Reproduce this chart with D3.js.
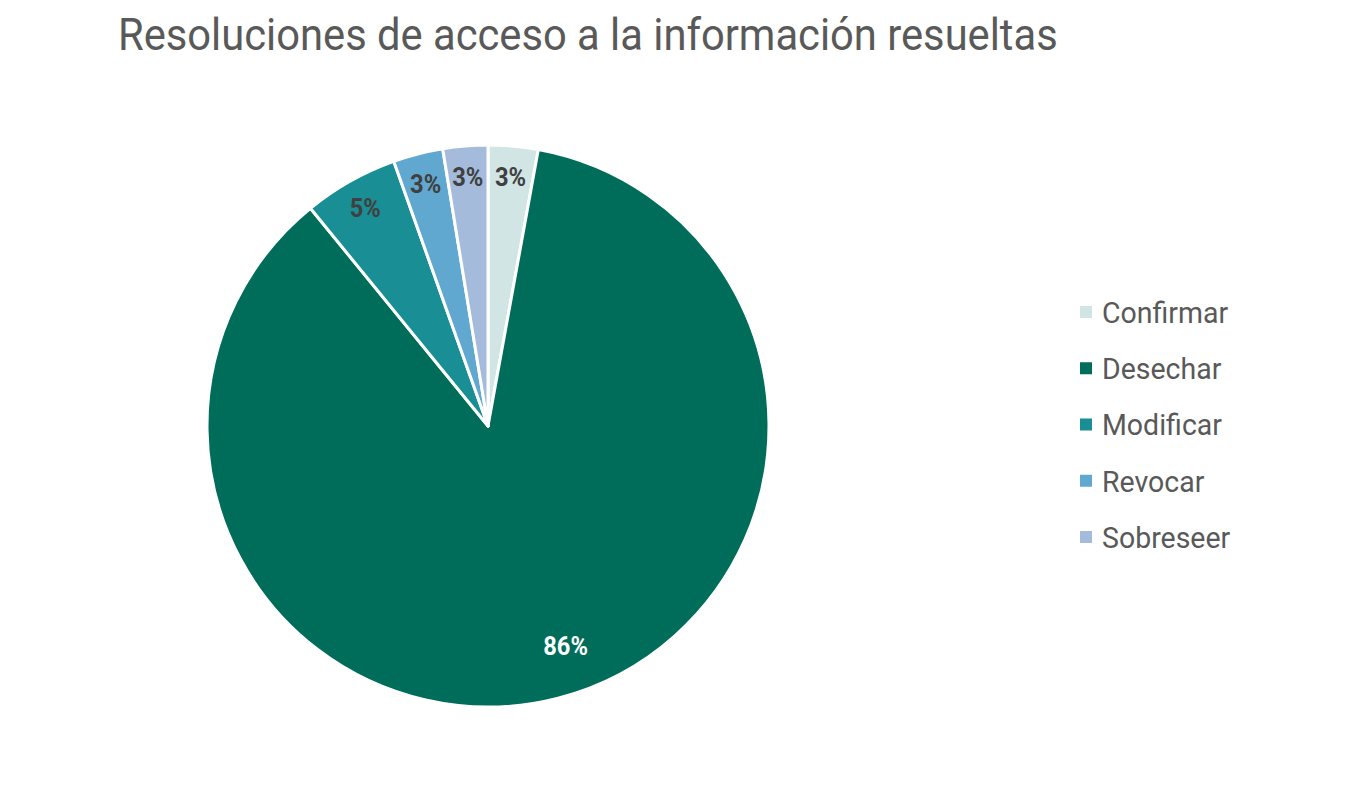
<!DOCTYPE html>
<html><head><meta charset="utf-8">
<script src="https://cdn.jsdelivr.net/npm/d3@7"></script>
<style>
html,body{margin:0;padding:0;background:#fff;}
text{font-family:Roboto,"Noto Sans",sans-serif;}
</style></head>
<body>
<svg id="chart" width="1346" height="806"></svg>
<script>
const title = "Resoluciones de acceso a la información resueltas";
const categories = ["Confirmar","Desechar","Modificar","Revocar","Sobreseer"];
const values = [10, 301, 19, 10, 9];
const colors = ["#d0e5e4","#006d5a","#1a8e95","#60a8d0","#a4bbdc"];

const svg = d3.select("#chart");
const cx = 488, cy = 426, R = 281;

// Title
svg.append("text")
  .attr("transform", `translate(118,50) scale(0.927,1)`)
  .attr("font-size", 45)
  .attr("fill", "#595959")
  .text(title);

const total = d3.sum(values);
const data = categories.map((c,i)=>({cat:c, value:values[i], color:colors[i]}));
const pie = d3.pie().value(d=>d.value).sort(null);
const arcs = pie(data);
const arc = d3.arc().innerRadius(0).outerRadius(R);

const g = svg.append("g").attr("transform", `translate(${cx},${cy})`);
g.selectAll("path").data(arcs).join("path")
  .attr("d", arc)
  .attr("fill", d=>d.data.color)
  .attr("stroke", "#fff")
  .attr("stroke-width", 3)
  .attr("stroke-linejoin", "round");

const fmt = v => Math.round(v/total*100) + "%";
g.selectAll("text.lbl").data(arcs).join("text")
  .attr("class","lbl")
  .attr("transform", d=>{
    const a = (d.startAngle + d.endAngle)/2;
    const big = (d.endAngle - d.startAngle) > Math.PI;
    const r = big ? 0.83*R : 0.89*R;
    const aa = big ? a - 0.087 : a;
    return `translate(${r*Math.sin(aa)},${-r*Math.cos(aa)}) scale(0.95,1)`;
  })
  .attr("text-anchor","middle")
  .attr("dy","0.36em")
  .attr("font-size", 25)
  .attr("font-weight", 700)
  .attr("fill", d=> (d.endAngle-d.startAngle) > Math.PI ? "#ffffff" : "#404040")
  .text(d=>fmt(d.data.value));

// Legend
const ly = d3.scalePoint().domain(categories).range([312, 537]);
const leg = svg.append("g");
const items = leg.selectAll("g").data(data).join("g")
  .attr("transform", d=>`translate(1080,${ly(d.cat)})`);
items.append("rect")
  .attr("x",0).attr("y",-6).attr("width",12).attr("height",12)
  .attr("fill", d=>d.color);
items.append("text")
  .attr("transform", `translate(22,0) scale(0.95,1)`)
  .attr("dy","0.36em")
  .attr("font-size", 30)
  .attr("fill","#595959")
  .text(d=>d.cat);
</script>
</body></html>
